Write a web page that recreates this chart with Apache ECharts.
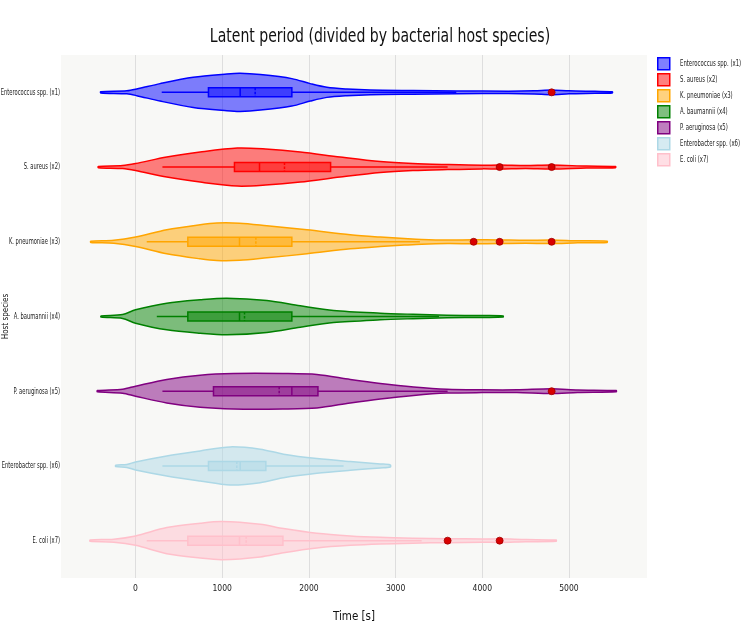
<!DOCTYPE html>
<html>
<head>
<meta charset="utf-8">
<script src="https://cdn.jsdelivr.net/npm/echarts@6/dist/echarts.min.js"></script>
<style>
  html, body { margin: 0; padding: 0; background: #fff; }
  #chart { width: 750px; height: 622px; }
</style>
</head>
<body>
<div id="chart"></div>
<script>
const font = '"DejaVu Sans Condensed", sans-serif';
const titleText = 'Latent period (divided by bacterial host species)';

const categories = [
  'Enterococcus spp. (x1)', 'S. aureus (x2)', 'K. pneumoniae (x3)', 'A. baumannii (x4)',
  'P. aeruginosa (x5)', 'Enterobacter spp. (x6)', 'E. coli (x7)'
];
const lineColors = ['#0000ff', '#ff0000', '#ffa500', '#008000', '#800080', '#add8e6', '#ffc0cb'];
const fillColors = [
  'rgba(0,0,255,0.5)', 'rgba(255,0,0,0.5)', 'rgba(255,165,0,0.5)', 'rgba(0,128,0,0.5)',
  'rgba(128,0,128,0.5)', 'rgba(173,216,230,0.5)', 'rgba(255,192,203,0.5)'
];

// Violin outline: time position and density (peak ~ 19).
const violinX = [
  [-402, -100, 14, 283, 665, 1053, 1206, 1440, 1803, 2015, 2207, 2438, 2707, 3200, 3700, 4300, 4600, 4800, 5000, 5300, 5500],
  [-430, -150, 0, 360, 745, 1175, 1500, 1900, 2360, 2823, 3200, 3600, 4000, 4200, 4500, 4800, 5200, 5537],
  [-517, -250, 0, 360, 745, 937, 1200, 1515, 1977, 2477, 2823, 3100, 3300, 3600, 3900, 4200, 4500, 4800, 5100, 5440],
  [-398, -150, 0, 360, 745, 1053, 1515, 1900, 2285, 2823, 3200, 3593, 4000, 4240],
  [-441, -150, 0, 360, 745, 1130, 1700, 2092, 2477, 2823, 3208, 3593, 4000, 4400, 4800, 5100, 5545],
  [-229, -100, 0, 360, 745, 1091, 1438, 1707, 2092, 2477, 2823, 2939],
  [-525, -250, 0, 360, 745, 995, 1438, 1707, 2092, 2477, 2823, 3200, 3600, 4000, 4200, 4500, 4852]
];
const violinDensity = [
  [0.6, 1.5, 3.3, 8.7, 15, 18.3, 19, 17.7, 13.7, 8.7, 5, 3.3, 2.3, 1.8, 1.4, 1.2, 1.6, 2.4, 1.5, 1, 0.6],
  [0.6, 1.5, 3.5, 10, 15, 19, 18, 15, 10, 5.5, 3.5, 2.5, 1.8, 2, 1.5, 2, 1, 0.6],
  [0.6, 1.5, 4.7, 12, 17, 18.7, 18.5, 16, 12, 7, 4.7, 3.3, 2.4, 1.8, 2, 1.8, 1.5, 1.8, 1, 0.6],
  [0.6, 2, 6.7, 13.3, 16.7, 18.3, 16, 10.7, 6, 3.3, 2.2, 1.3, 0.9, 0.6],
  [0.6, 2, 5, 11.7, 16, 17.7, 17.7, 16.7, 11.7, 7.7, 4.2, 1.9, 1.4, 1.4, 2.4, 1.3, 0.6],
  [0.6, 1.5, 4, 10, 15, 19, 16.7, 11.7, 7.3, 4.3, 2, 1],
  [0.6, 1.5, 4.7, 13, 17.3, 19, 16.3, 12, 7.3, 4.7, 3.3, 2.5, 2, 1.6, 1.8, 1.1, 0.6]
];

// Box stats: [lower whisker, Q1, median, mean, Q3, upper whisker]
const boxStats = [
  [302, 841, 1207, 1380, 1803, 3700],
  [310, 1141, 1430, 1718, 2250, 3600],
  [129, 603, 1199, 1388, 1803, 3280],
  [245, 603, 1199, 1257, 1803, 3500],
  [310, 899, 1803, 1657, 2104, 3600],
  [310, 841, 1207, 1168, 1503, 2400],
  [129, 603, 1199, 1276, 1700, 3300]
];
const outliers = [
  [4800],
  [4200, 4800],
  [3900, 4200, 4800],
  [],
  [4800],
  [],
  [3600, 4200]
];

const densityMax = 19;

function violinRenderer(k) {
  return function (params, api) {
    const cat = api.value(0);
    const band = api.size([0, 1])[1];
    const scale = band * 0.255 / densityMax;
    const xs = violinX[k];
    const ws = violinDensity[k];
    const top = [];
    const bottom = [];
    for (let i = 0; i < xs.length; i++) {
      const p = api.coord([xs[i], cat]);
      top.push([p[0], p[1] - ws[i] * scale]);
      bottom.unshift([p[0], p[1] + ws[i] * scale]);
    }
    const s = boxStats[k];
    const yc = api.coord([s[1], cat])[1];
    const half = band * 0.06;
    const px = v => api.coord([v, cat])[0];
    const stroke = lineColors[k];
    return {
      type: 'group',
      children: [
        {
          type: 'polygon',
          shape: { points: top.concat(bottom), smooth: 0.3 },
          style: { fill: fillColors[k], stroke: stroke, lineWidth: 1.5 }
        },
        {
          type: 'line',
          shape: { x1: px(s[0]), y1: yc, x2: px(s[1]), y2: yc },
          style: { stroke: stroke, lineWidth: 1.5 }
        },
        {
          type: 'line',
          shape: { x1: px(s[4]), y1: yc, x2: px(s[5]), y2: yc },
          style: { stroke: stroke, lineWidth: 1.5 }
        },
        {
          type: 'rect',
          shape: { x: px(s[1]), y: yc - half, width: px(s[4]) - px(s[1]), height: half * 2 },
          style: { fill: fillColors[k], stroke: stroke, lineWidth: 1.5 }
        },
        {
          type: 'line',
          shape: { x1: px(s[2]), y1: yc - half, x2: px(s[2]), y2: yc + half },
          style: { stroke: stroke, lineWidth: 1.5 }
        },
        {
          type: 'line',
          shape: { x1: px(s[3]), y1: yc - half, x2: px(s[3]), y2: yc + half },
          style: { stroke: stroke, lineWidth: 1.5, lineDash: [2.5, 1.5] }
        }
      ]
    };
  };
}

const series = categories.map((name, k) => ({
  type: 'custom',
  name: name,
  renderItem: violinRenderer(k),
  data: [[k]],
  encode: { y: 0 },
  itemStyle: { color: fillColors[k], borderColor: lineColors[k] },
  silent: true,
  z: 2 + k
}));

const outlierData = [];
outliers.forEach((list, k) => list.forEach(v => outlierData.push([v, k])));
series.push({
  type: 'scatter',
  name: 'outliers',
  data: outlierData,
  symbolSize: 7,
  itemStyle: { color: '#d90000', borderColor: '#a00000', borderWidth: 0.8, opacity: 1 },
  z: 20,
  silent: true
});

const legendLeft = 657;
const legendTop = 57;
const legendStep = 16;

const chart = echarts.init(document.getElementById('chart'), null, { renderer: 'canvas' });
chart.setOption({
  animation: false,
  backgroundColor: '#ffffff',
  legend: {
    orient: 'vertical',
    left: legendLeft,
    top: legendTop,
    padding: 0,
    itemWidth: 12,
    itemHeight: 12,
    // the 1.5px icon border adds 1.5px to each row
    itemGap: legendStep - 13.5,
    icon: 'rect',
    formatter: () => '',
    textStyle: { fontSize: 8, lineHeight: 12 },
    data: categories.map((name, k) => ({
      name: name,
      itemStyle: { color: fillColors[k], borderColor: lineColors[k], borderWidth: 1.5 }
    }))
  },
  grid: {
    left: 61,
    right: 103,
    top: 55,
    bottom: 44,
    containLabel: false,
    outerBoundsMode: 'none',
    show: true,
    backgroundColor: '#f8f8f6',
    borderWidth: 0
  },
  xAxis: {
    type: 'value',
    min: -860,
    max: 5900,
    name: 'Time [s]',
    nameLocation: 'middle',
    nameGap: 33,
    nameTextStyle: { fontFamily: font, fontSize: 11.5, color: '#111' },
    axisLine: { show: false },
    axisTick: { show: false },
    axisLabel: {
      fontFamily: font, fontSize: 8.5, color: '#222', margin: 6,
      showMinLabel: false, showMaxLabel: false,
      formatter: v => String(v)
    },
    splitLine: { show: true, showMinLine: false, showMaxLine: false, lineStyle: { color: '#dedede', width: 1 } }
  },
  yAxis: {
    type: 'category',
    inverse: true,
    data: categories,
    name: 'Host species',
    nameLocation: 'middle',
    nameRotate: 90,
    nameGap: 51,
    nameTextStyle: { fontFamily: font, fontSize: 8, color: '#111' },
    axisLine: { show: false },
    axisTick: { show: false },
    splitLine: { show: false },
    axisLabel: { show: false }
  },
  series: series
});

// Condensed title, category and legend labels (the source font is narrow).
const textGraphics = [{
  type: 'text',
  x: 380,
  y: 37,
  scaleX: 0.78,
  silent: true,
  style: { text: titleText, font: '20px ' + font, fill: '#111', align: 'center', verticalAlign: 'middle' }
}];
categories.forEach((name, k) => {
  textGraphics.push({
    type: 'text',
    x: 60,
    y: chart.convertToPixel({ yAxisIndex: 0 }, name),
    scaleX: 0.64,
    silent: true,
    style: { text: name, font: '9px ' + font, fill: '#1a1a1a', align: 'right', verticalAlign: 'middle' }
  });
  textGraphics.push({
    type: 'text',
    x: legendLeft + 23,
    y: legendTop + 6.75 + k * legendStep,
    scaleX: 0.66,
    silent: true,
    style: { text: name, font: '9px ' + font, fill: '#1a1a1a', align: 'left', verticalAlign: 'middle' }
  });
});
chart.setOption({ graphic: { elements: textGraphics } });
</script>
</body>
</html>
